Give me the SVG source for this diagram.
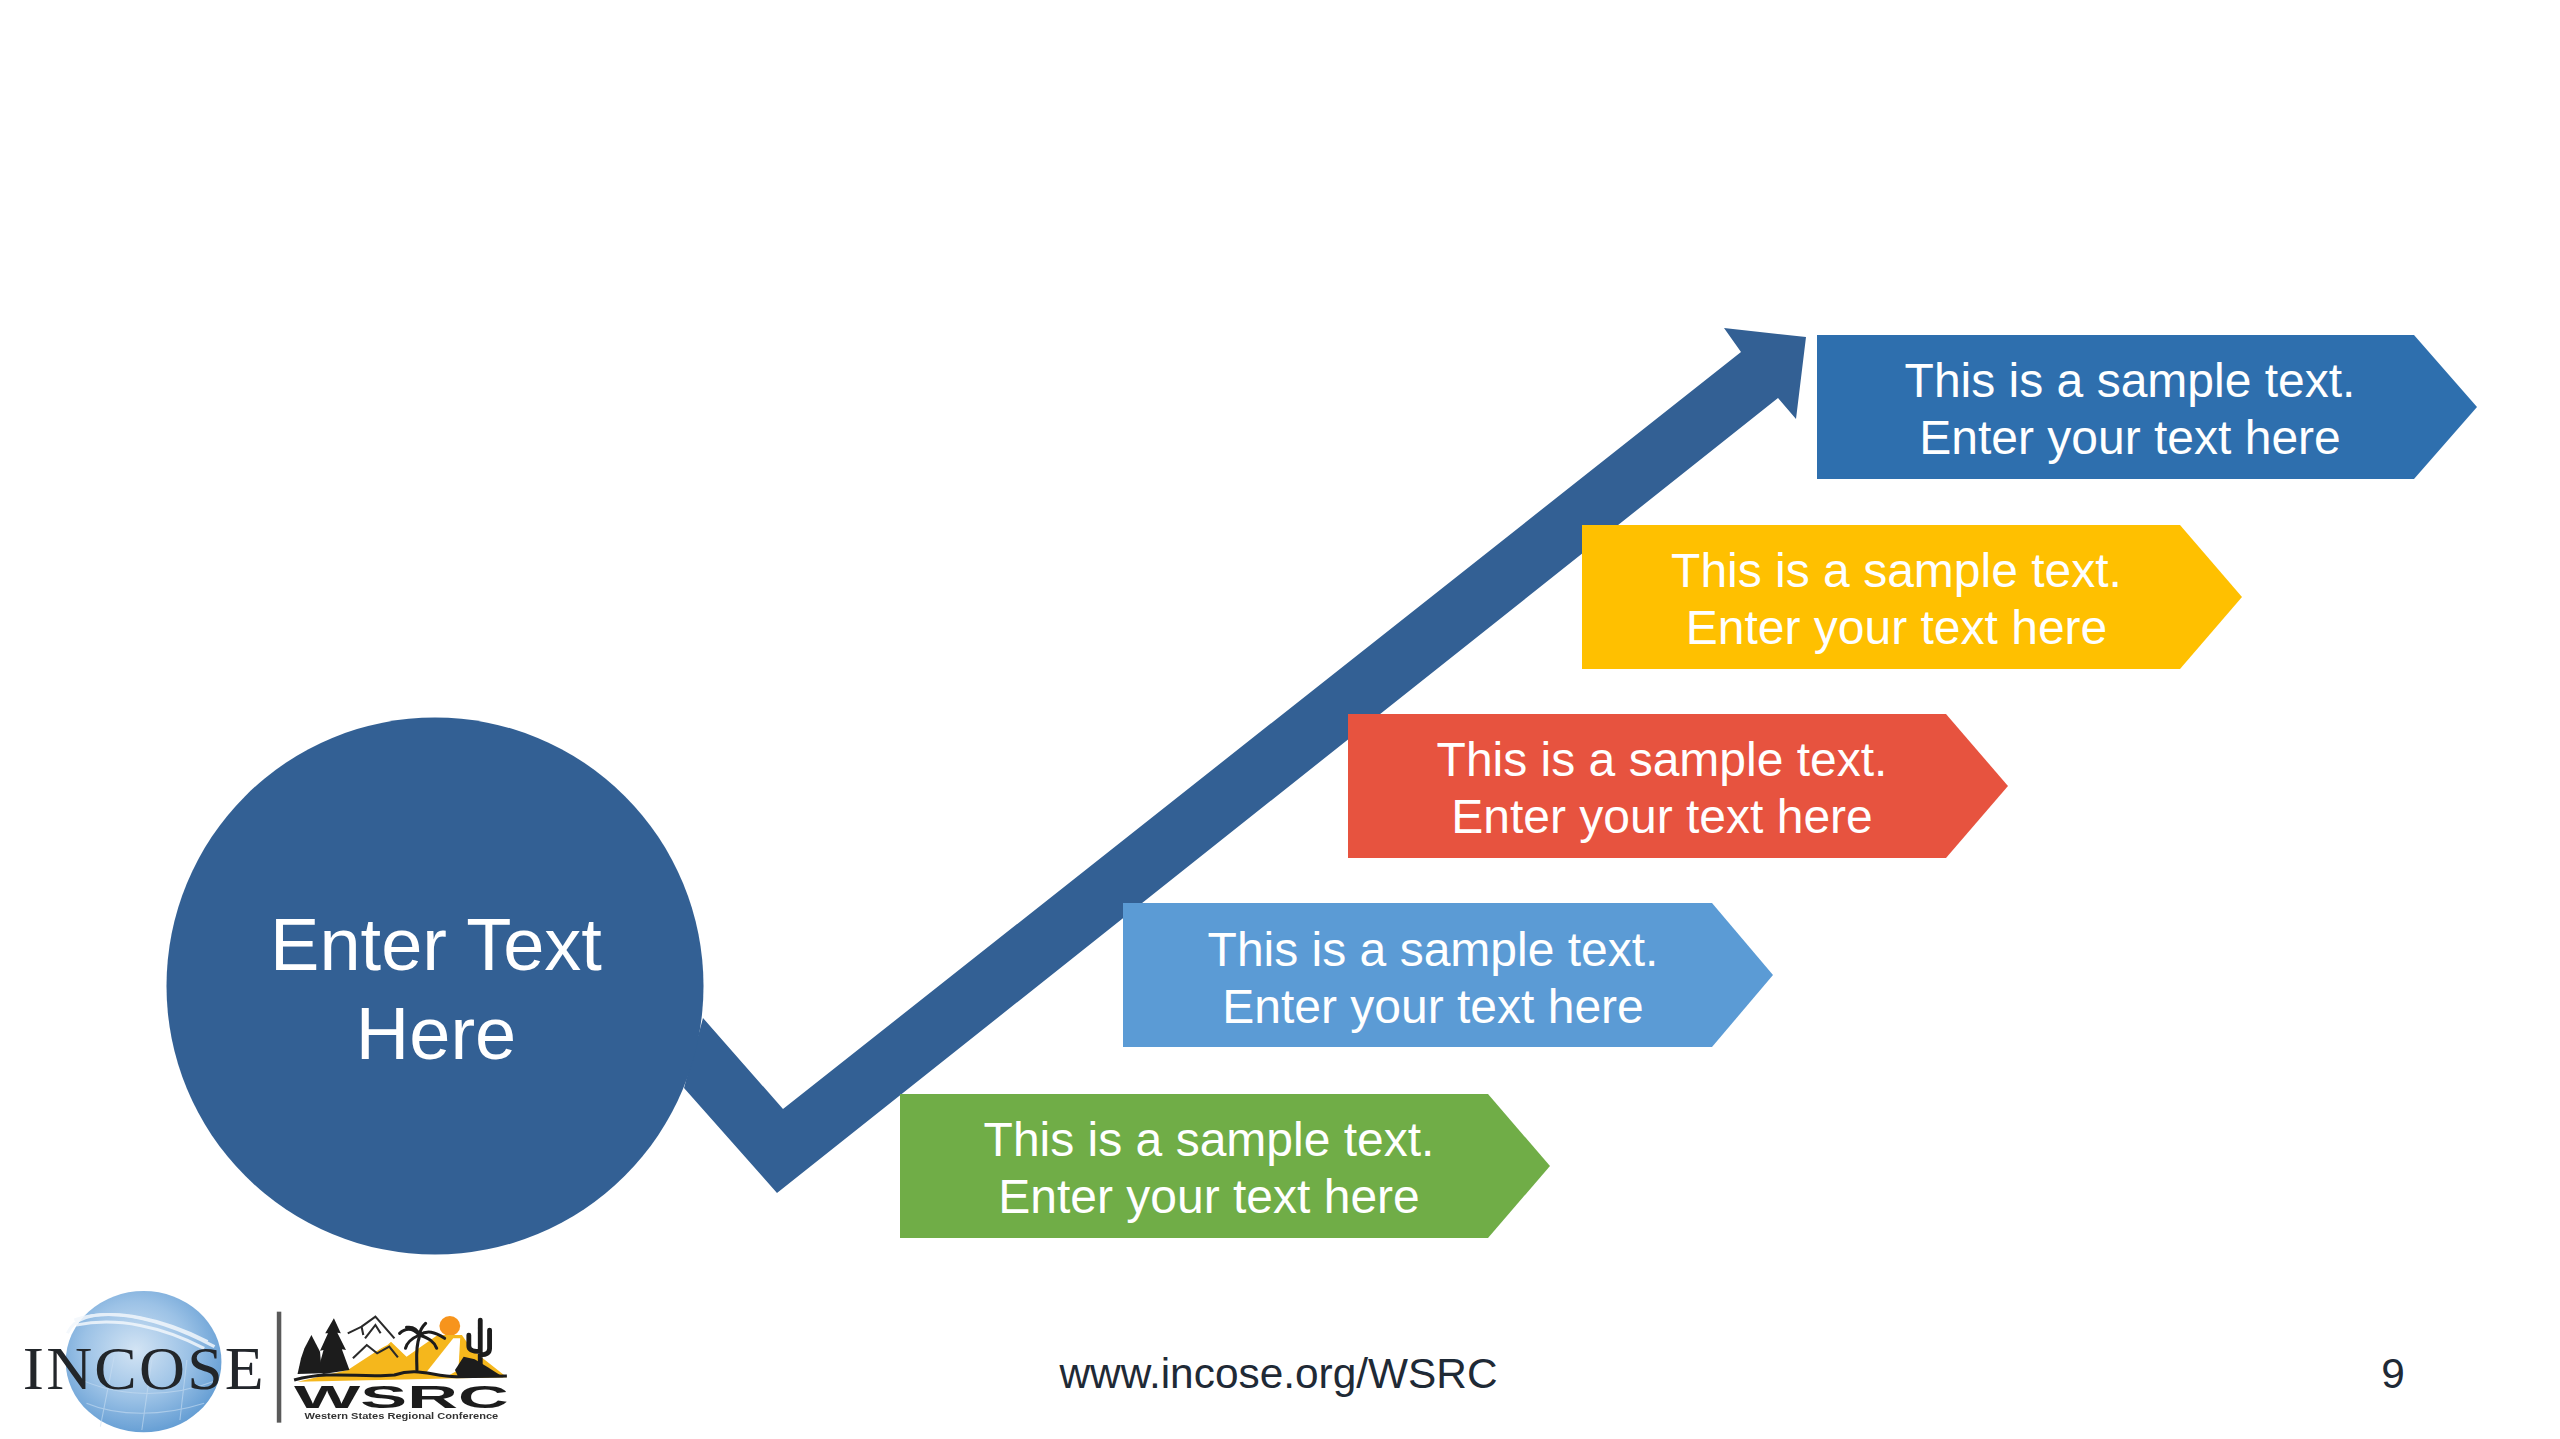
<svg xmlns="http://www.w3.org/2000/svg" width="2560" height="1439" viewBox="0 0 2560 1439">
<style>
.lbl{font-family:"Liberation Sans",Arial,sans-serif;font-size:48px;fill:#fff;text-anchor:middle}
.hub{font-family:"Liberation Sans",Arial,sans-serif;font-size:74px;fill:#fff;text-anchor:middle}
.foot{font-family:"Liberation Sans",Arial,sans-serif;font-size:42.400px;fill:#1f2a36;text-anchor:middle}
.dark{fill:#1c1c1c}
.frond{fill:none;stroke:#1c1c1c;stroke-width:9;stroke-linecap:round}
</style>
<defs>
<radialGradient id="globe" cx="45%" cy="42%" r="62%">
<stop offset="0" stop-color="#d3e4f4"/><stop offset=".55" stop-color="#9cc2e6"/><stop offset="1" stop-color="#5f9ad2"/>
</radialGradient>
<filter id="soft" x="-5%" y="-5%" width="110%" height="110%"><feGaussianBlur stdDeviation="0.8"/></filter>
</defs>
<rect width="2560" height="1439" fill="#fff"/>
<g id="connectors">
<polygon fill="#336094" points="703,1018 783,1109 1741,352 1724,328 1806,337 1796,419 1778,398 777,1193 684,1088"/>
</g>
<g id="hub">
<circle cx="435" cy="986" r="268.500" fill="#336094"/>
<text class="hub" x="436" y="969.500">Enter Text</text>
<text class="hub" x="436" y="1058.500">Here</text>
</g>
<g id="step-5">
<polygon fill="#2e6fae" points="1817,335 2414,335 2477,407 2414,479 1817,479"/>
<text class="lbl" x="2130" y="397">This is a sample text.</text>
<text class="lbl" x="2130" y="454">Enter your text here</text>
</g>
<g id="step-4">
<polygon fill="#ffc000" points="1582,525 2180,525 2242,597 2180,669 1582,669"/>
<text class="lbl" x="1896.500" y="587">This is a sample text.</text>
<text class="lbl" x="1896.500" y="644">Enter your text here</text>
</g>
<g id="step-3">
<polygon fill="#e7533f" points="1348,714 1946,714 2008,786 1946,858 1348,858"/>
<text class="lbl" x="1662" y="776">This is a sample text.</text>
<text class="lbl" x="1662" y="833">Enter your text here</text>
</g>
<g id="step-2">
<polygon fill="#5b9bd5" points="1123,903 1712,903 1773,975 1712,1047 1123,1047"/>
<text class="lbl" x="1433" y="966">This is a sample text.</text>
<text class="lbl" x="1433" y="1023">Enter your text here</text>
</g>
<g id="step-1">
<polygon fill="#70ad47" points="900,1094 1488,1094 1550,1166 1488,1238 900,1238"/>
<text class="lbl" x="1209" y="1156">This is a sample text.</text>
<text class="lbl" x="1209" y="1213">Enter your text here</text>
</g>
<g id="logo" transform="translate(0,1270) scale(.346,.3333)" filter="url(#soft)">
<ellipse cx="415" cy="275" rx="225" ry="212" fill="url(#globe)"/>
<g fill="none" stroke="#f2f7fc" stroke-width="9" opacity=".85">
<path d="M195 190C230 100 420 120 620 230"/>
<path d="M215 150C330 110 480 150 600 215"/>
<path d="M220 165C340 140 470 170 590 235"/>
</g>
<g fill="none" stroke="#c9def2" stroke-width="3" opacity=".6">
<path d="M215 320C330 380 480 390 630 330"/><path d="M250 400C340 440 470 440 590 400"/>
<path d="M330 260L290 470"/><path d="M440 260L410 480"/><path d="M540 270L520 450"/>
</g>
<text x="66" y="357" font-family="'Liberation Serif','Times New Roman',serif" font-size="184" fill="#22252b" textLength="696" lengthAdjust="spacing">INCOSE</text>
<rect x="800" y="125" width="13" height="333" fill="#5a5a5a"/>
<circle cx="1300" cy="168" r="30" fill="#f7941d"/>
<polygon fill="#f5b71f" points="1005,300 1130,215 1175,260 1265,195 1335,195 1365,240 1465,322 860,335"/>
<polygon fill="#fff" points="1230,310 1310,205 1330,205 1325,300 1290,320"/>
<polygon fill="#fff" points="1005,190 1045,170 1085,140 1140,205 1120,225 1090,240 1060,225 1020,265"/>
<path d="M1005 190L1045 170L1050 195M1045 170L1085 140L1140 205M1055 205L1085 165L1100 190M1020 265L1060 225L1090 250L1125 230L1150 262" fill="none" stroke="#2a2a2a" stroke-width="6"/>
<polygon class="dark" points="900,195 925,245 930,310 860,312 870,265 880,235"/>
<polygon class="dark" points="965,145 985,190 975,188 1000,240 988,238 1010,300 935,312 918,305 935,240 925,242 948,190 940,190"/>
<path class="frond" d="M1205 300C1205 265 1200 235 1212 200" stroke-width="14"/>
<path class="frond" d="M1212 195C1190 170 1170 175 1155 190M1212 195C1205 175 1190 170 1175 172M1212 195C1215 175 1222 168 1230 160M1212 195C1235 180 1255 185 1285 205M1212 195C1240 205 1255 215 1262 235M1212 195C1190 205 1175 220 1172 235"/>
<path d="M1388 150V290M1355 195V228Q1355 245 1388 245M1415 180V235Q1415 255 1388 255" fill="none" stroke="#1c1c1c" stroke-width="14" stroke-linecap="round"/>
<polygon class="dark" points="1315,300 1340,260 1372,268 1410,292 1455,322 1325,322"/>
<path d="M850 330C960 300 1040 325 1140 315C1210 290 1250 320 1320 320L1465 318" fill="none" stroke="#1c1c1c" stroke-width="9"/>
<text x="850" y="414" font-family="'Liberation Sans',Arial,sans-serif" font-weight="700" font-size="95" class="dark" textLength="620" lengthAdjust="spacingAndGlyphs">WSRC</text>
<text x="880" y="448" font-family="'Liberation Sans',Arial,sans-serif" font-weight="700" font-size="26" fill="#333" textLength="560" lengthAdjust="spacingAndGlyphs">Western States Regional Conference</text>
</g>
<g id="footer">
<text class="foot" x="1278.500" y="1388">www.incose.org/WSRC</text>
<text class="foot" x="2393" y="1388">9</text>
</g>
</svg>
